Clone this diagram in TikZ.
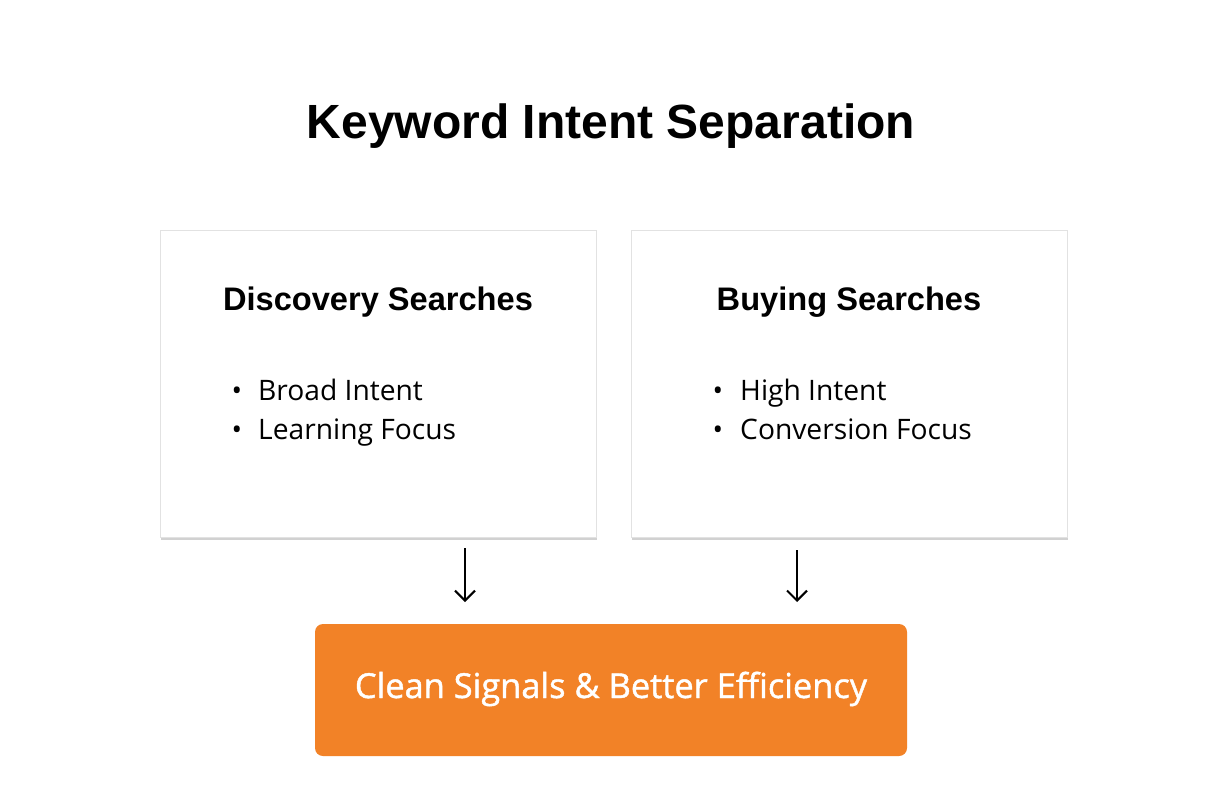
\documentclass[tikz,border=0pt]{standalone}
\usepackage{fontspec}
\setmainfont{Open Sans}
\newfontfamily\headfont{Liberation Sans}
\newfontfamily\resultfont[FakeBold=1.2]{Open Sans}
\usetikzlibrary{arrows.meta,shadows}
\definecolor{brandorange}{HTML}{F28227}
\definecolor{boxborder}{HTML}{E2E2E2}
\tikzset{
  card/.style={draw=boxborder, line width=0.8pt, fill=white, minimum width=436pt, minimum height=307pt, inner sep=0pt,
    drop shadow={shadow xshift=0.8pt, shadow yshift=-2.5pt, opacity=0.18, fill=black}},
  resultbox/.style={fill=brandorange, rounded corners=8pt, minimum width=592pt, minimum height=132pt, inner sep=0pt},
  titletext/.style={font=\headfont\bfseries\fontsize{48}{56}\selectfont, anchor=base},
  headtext/.style={font=\headfont\bfseries\fontsize{32.6}{38}\selectfont, anchor=base},
  bullettext/.style={font=\fontsize{28.2}{34}\selectfont, anchor=base west, inner sep=0pt},
  bulletdot/.style={font=\fontsize{28}{34}\selectfont, anchor=base, inner sep=0pt},
  resulttext/.style={font=\resultfont\fontsize{34.4}{40}\selectfont, text=white, anchor=base},
  flowarrow/.style={line width=2.1pt, -{Straight Barb[length=10pt,width=20pt]}}
}
\begin{document}
\begin{tikzpicture}[x=1pt,y=-1pt]
\useasboundingbox (0,0) rectangle (1214,800);
\fill[white] (0,0) rectangle (1214,800);

\node[titletext] (title) at (611,138) {Keyword Intent Separation};

\node[card] (left) at (378,383.5) {};
\node[card] (right) at (849,383.5) {};

\node[headtext] (lhead) at (378,310) {Discovery Searches};
\node[headtext] (rhead) at (849,310) {Buying Searches};

\node[bulletdot] (lb1) at (237,400) {•};
\node[bullettext] (lt1) at (258,400) {Broad Intent};
\node[bulletdot] (lb2) at (237,439) {•};
\node[bullettext] (lt2) at (258,439) {Learning Focus};

\node[bulletdot] (rb1) at (718,400) {•};
\node[bullettext] (rt1) at (740,400) {High Intent};
\node[bulletdot] (rb2) at (718,439) {•};
\node[bullettext] (rt2) at (740,439) {Conversion Focus};

\node[resultbox] (result) at (611,690) {};
\node[resulttext] (rtext) at (611,698) {Clean Signals \& Better Efficiency};

\coordinate (a1s) at (465,548);
\coordinate (a1e) at (465,602);
\coordinate (a2s) at (797,550);
\coordinate (a2e) at (797,602);
\draw[flowarrow] (a1s) -- (a1e);
\draw[flowarrow] (a2s) -- (a2e);
\end{tikzpicture}
\end{document}
